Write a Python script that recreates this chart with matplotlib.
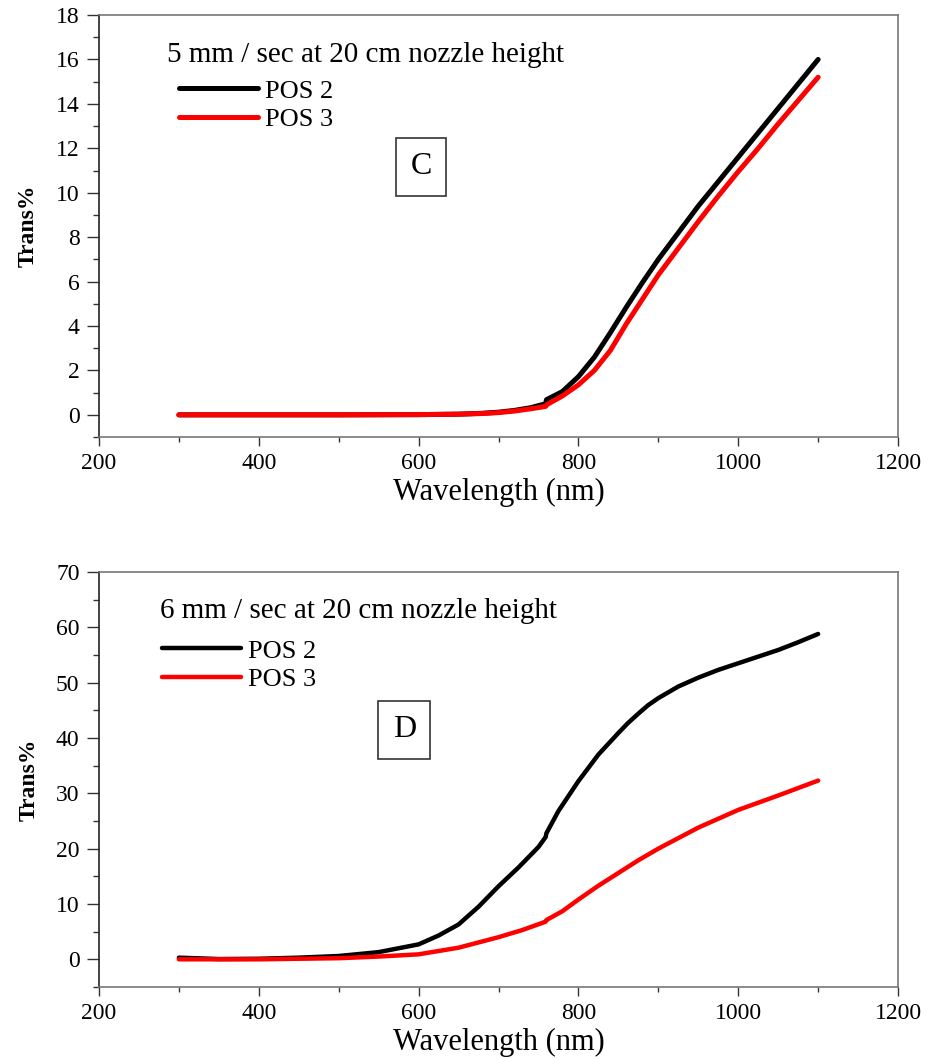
import numpy as np
import matplotlib
matplotlib.use("Agg")
import matplotlib.pyplot as plt
from matplotlib.ticker import MultipleLocator

plt.rcParams['font.family'] = ['Liberation Serif', 'DejaVu Serif']

# Panel C (5 mm/sec)
wl_c = [300, 400, 500, 600, 650, 680, 700, 720, 740, 759, 760, 780, 800, 820, 840,
        860, 880, 900, 925, 950, 975, 1000, 1025, 1050, 1075, 1100]
pos2_c = [0, 0, 0, 0.01, 0.03, 0.07, 0.12, 0.2, 0.32, 0.5, 0.68, 1.05, 1.72, 2.6, 3.7,
          4.85, 5.95, 7.0, 8.2, 9.4, 10.5, 11.6, 12.7, 13.8, 14.9, 16.0]
pos3_c = [0, 0, 0, 0.01, 0.03, 0.06, 0.1, 0.17, 0.27, 0.38, 0.45, 0.85, 1.35, 2.0, 2.9,
          4.1, 5.2, 6.3, 7.5, 8.7, 9.85, 10.95, 12.0, 13.1, 14.15, 15.2]

# Panel D (6 mm/sec)
wl_d2 = [300, 350, 400, 450, 500, 550, 600, 625, 650, 675, 700, 725, 750, 759, 760,
         775, 800, 825, 850, 862, 875, 887, 900, 925, 950, 975, 1000, 1025, 1050, 1075, 1100]
pos2_d = [0.3, 0.05, 0.1, 0.3, 0.6, 1.3, 2.7, 4.3, 6.3, 9.5, 13.2, 16.6, 20.3, 22.1, 22.8,
          26.8, 32.2, 37.0, 40.9, 42.7, 44.4, 45.9, 47.2, 49.3, 50.9, 52.3, 53.5, 54.7, 55.9,
          57.3, 58.8]
wl_d3 = [300, 400, 450, 500, 550, 600, 650, 700, 730, 759, 760, 780, 800, 825, 850,
         875, 900, 950, 1000, 1050, 1100]
pos3_d = [0, 0, 0.1, 0.2, 0.5, 0.9, 2.1, 4.0, 5.3, 6.8, 7.1, 8.7, 10.8, 13.3, 15.6,
          17.9, 20.0, 23.8, 27.0, 29.6, 32.3]

fig = plt.figure(figsize=(9.31, 10.59), dpi=100)
ax1 = fig.add_axes([0.1063, 0.5873, 0.8583, 0.3985])
ax2 = fig.add_axes([0.1063, 0.0680, 0.8583, 0.3919])


def style(ax, ymin, ymax, ymaj, ymin_step):
    ax.set_xlim(200, 1200)
    ax.set_ylim(ymin, ymax)
    ax.xaxis.set_major_locator(MultipleLocator(200))
    ax.xaxis.set_minor_locator(MultipleLocator(100))
    ax.yaxis.set_major_locator(MultipleLocator(ymaj))
    ax.yaxis.set_minor_locator(MultipleLocator(ymin_step))
    ax.tick_params(axis='x', which='major', direction='out', length=6.5, width=1,
                   labelsize=17, pad=5, color='#333')
    ax.tick_params(axis='x', which='minor', direction='out', length=3.5, width=1, color='#333')
    ax.tick_params(axis='y', which='major', direction='out', length=9, width=1,
                   labelsize=17, pad=5, color='#333')
    ax.tick_params(axis='y', which='minor', direction='out', length=4.5, width=1, color='#333')
    for s in ['top', 'right', 'bottom']:
        ax.spines[s].set_color('#777')
        ax.spines[s].set_linewidth(1.2)
    ax.spines['left'].set_color('#222')
    ax.spines['left'].set_linewidth(1.2)
    ax.set_xlabel('Wavelength (nm)', fontsize=22, labelpad=3)
    ax.set_ylabel('Trans%', fontsize=17, fontweight='bold', labelpad=12)


style(ax1, -1, 18, 2, 1)
ax1.plot(wl_c, pos2_c, color='black', lw=3.6, label='POS 2', solid_capstyle='round')
ax1.plot(wl_c, pos3_c, color='red', lw=3.6, label='POS 3', solid_capstyle='round')
ax1.text(0.085, 0.905, '5 mm / sec at 20 cm nozzle height', transform=ax1.transAxes,
         fontsize=21, va='center')
ax1.legend(loc='upper left', bbox_to_anchor=(0.100, 0.848), frameon=False, fontsize=19,
           handlelength=3.0, handletextpad=0.27, labelspacing=0.2, borderaxespad=0,
           borderpad=0)
ax1.text(0.403, 0.64, 'C', transform=ax1.transAxes, fontsize=23, ha='center', va='center',
         bbox=dict(boxstyle='square,pad=0.45', fc='white', ec='#333', lw=1.2))

style(ax2, -5, 70, 10, 5)
ax2.plot(wl_d2, pos2_d, color='black', lw=3.2, label='POS 2', solid_capstyle='round')
ax2.plot(wl_d3, pos3_d, color='red', lw=3.2, label='POS 3', solid_capstyle='round')
ax2.text(0.076, 0.906, '6 mm / sec at 20 cm nozzle height', transform=ax2.transAxes,
         fontsize=21, va='center')
ax2.legend(loc='upper left', bbox_to_anchor=(0.079, 0.838), frameon=False, fontsize=19,
           handlelength=3.0, handletextpad=0.27, labelspacing=0.2, borderaxespad=0,
           borderpad=0)
ax2.text(0.382, 0.62, 'D', transform=ax2.transAxes, fontsize=23, ha='center', va='center',
         bbox=dict(boxstyle='square,pad=0.45', fc='white', ec='#333', lw=1.2))

fig.savefig('out.png', dpi=100)
